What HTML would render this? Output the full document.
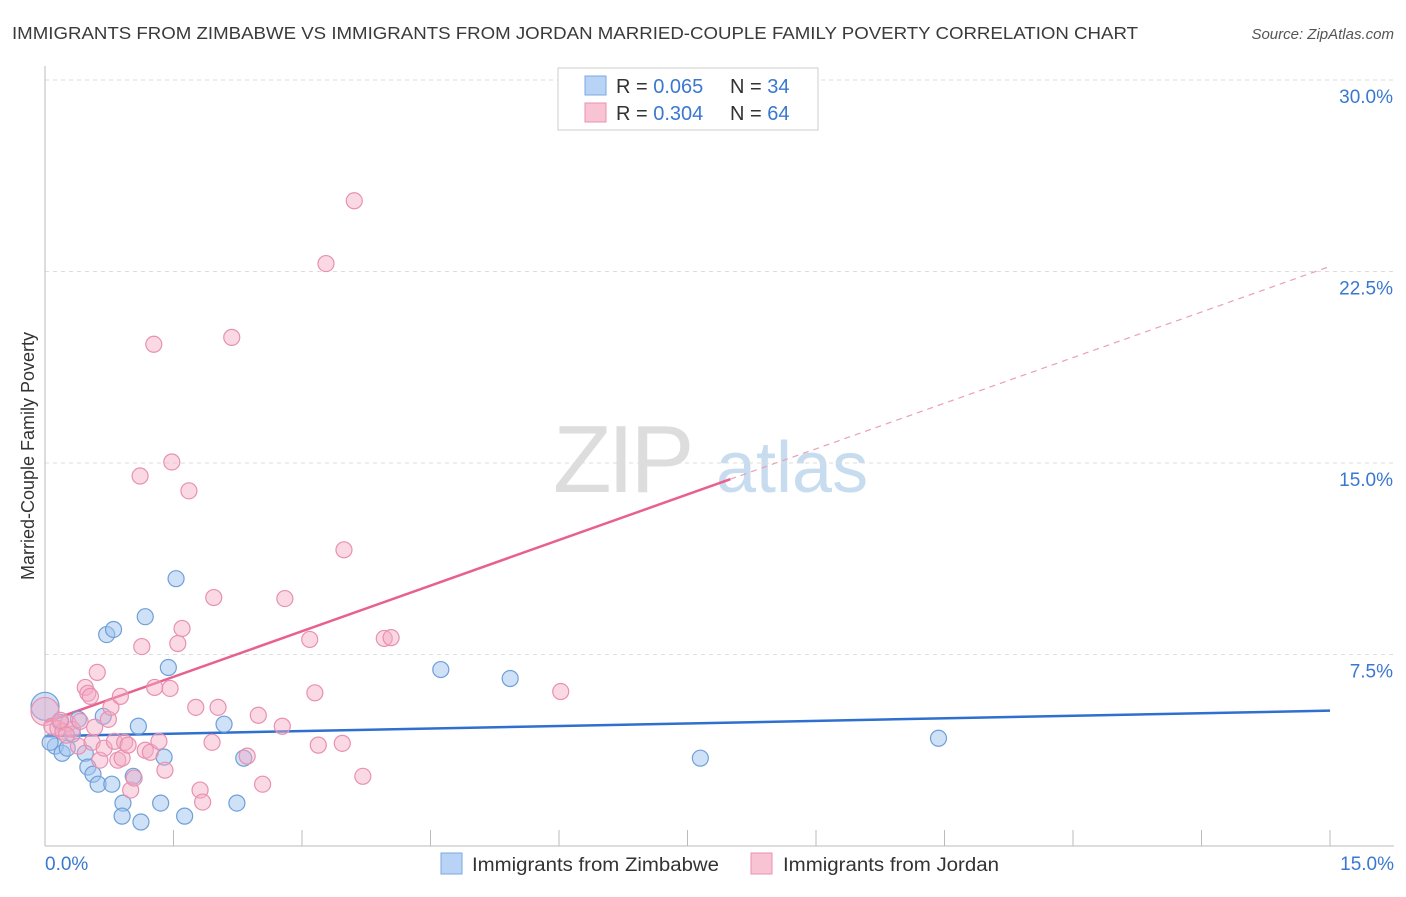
<!DOCTYPE html>
<html><head><meta charset="utf-8"><style>
body{margin:0;background:#fff;font-family:"Liberation Sans",sans-serif;}
svg text{font-family:"Liberation Sans",sans-serif;}
</style></head><body>
<svg id="chart" width="1406" height="892" xmlns="http://www.w3.org/2000/svg">
<text x="12" y="39" font-size="17.5" fill="#3a3a3a" textLength="1126" lengthAdjust="spacingAndGlyphs">IMMIGRANTS FROM ZIMBABWE VS IMMIGRANTS FROM JORDAN MARRIED-COUPLE FAMILY POVERTY CORRELATION CHART</text>
<text x="1394" y="39" font-size="15" fill="#555" font-style="italic" text-anchor="end">Source: ZipAtlas.com</text>
<g>
<text x="553" y="492" font-size="96" fill="#ddd" font-family="Liberation Serif" letter-spacing="-4">ZIP</text>
<text x="716" y="492" font-size="72" fill="#c8dcf0">atlas</text>
</g>
<g id="grid"></g>
<g id="axes"></g>
<g id="lines"></g>
<g id="pts"></g>
<text transform="translate(34,456) rotate(-90)" font-size="18" fill="#333" text-anchor="middle">Married-Couple Family Poverty</text>
<g>
<rect x="558" y="68" width="260" height="62" fill="#fff" stroke="#ccc"/>
<rect x="585" y="76" width="21" height="19" fill="#b8d3f5" stroke="#7aaae0"/>
<text x="616" y="93" font-size="20" fill="#333">R = <tspan fill="#3a78d0">0.065</tspan></text>
<text x="730" y="93" font-size="20" fill="#333">N = <tspan fill="#3a78d0">34</tspan></text>
<rect x="585" y="103" width="21" height="19" fill="#f8c4d4" stroke="#e890b0"/>
<text x="616" y="120" font-size="20" fill="#333">R = <tspan fill="#3a78d0">0.304</tspan></text>
<text x="730" y="120" font-size="20" fill="#333">N = <tspan fill="#3a78d0">64</tspan></text>
</g>
<g>
<rect x="441" y="853" width="21" height="21" fill="#b8d3f5" stroke="#7aaae0"/>
<text x="472" y="871" font-size="19" fill="#333" textLength="247" lengthAdjust="spacingAndGlyphs">Immigrants from Zimbabwe</text>
<rect x="751" y="853" width="21" height="21" fill="#f8c4d4" stroke="#e890b0"/>
<text x="783" y="871" font-size="19" fill="#333" textLength="216" lengthAdjust="spacingAndGlyphs">Immigrants from Jordan</text>
</g>
</svg>
<script>
const yTicks=[7.5,15,22.5,30];
const yTickLabels=["7.5%","15.0%","22.5%","30.0%"];
const xTickCount=10;
const blueX=[0,0.12,0.2,0.26,0.32,0.39,0.47,0.5,0.56,0.62,0.68,0.72,0.78,0.8,0.91,0.9,1.03,1.09,1.12,1.17,1.35,1.39,1.44,1.53,1.63,2.09,2.24,2.32,4.62,5.43,7.65,10.43,0.18,0.06];
const blueY=[5.47,3.91,3.63,3.83,4.38,4.96,3.63,3.09,2.81,2.42,5.08,8.28,2.42,8.48,1.68,1.17,2.73,4.69,0.94,8.98,1.68,3.48,6.99,10.47,1.17,4.77,1.68,3.44,6.91,6.56,3.44,4.22,4.84,4.06];
const pinkX=[0,0.08,0.15,0.21,0.27,0.32,0.39,0.41,0.47,0.5,0.55,0.58,0.61,0.64,0.69,0.74,0.77,0.81,0.85,0.9,0.93,0.97,1.0,1.04,1.11,1.13,1.17,1.23,1.27,1.28,1.33,1.4,1.46,1.48,1.55,1.6,1.68,1.76,1.81,1.84,1.95,1.97,2.02,2.18,2.36,2.49,2.54,2.77,2.8,3.09,3.15,3.19,3.28,3.47,3.49,3.61,3.71,3.96,4.04,6.02,0.18,0.25,0.53,0.88];
const pinkY=[5.27,4.69,4.61,4.49,4.8,4.57,3.91,4.88,6.21,5.98,4.06,4.65,6.8,3.36,3.83,4.96,5.43,4.1,3.36,3.44,4.06,3.95,2.19,2.66,14.49,7.81,3.75,3.67,19.65,6.21,4.1,2.97,6.17,15.04,7.93,8.52,13.91,5.43,2.19,1.72,4.06,9.73,5.43,19.92,3.52,5.12,2.42,4.69,9.69,8.09,6.0,3.95,22.81,4.02,11.6,25.27,2.73,8.13,8.16,6.05,4.92,4.34,5.86,5.86];
const blueLine=[4.3,5.3];
const pinkLine=[4.84,22.7];
const pinkSolidEnd=8.0;
const NS="http://www.w3.org/2000/svg";
const X0=45,X1=1330,Y0=846,Y30=80;
const sx=v=>X0+(X1-X0)*v/15;
const sy=v=>Y0-(Y0-Y30)*v/30;
function mk(tag,attrs,parent){const e=document.createElementNS(NS,tag);for(const k in attrs)e.setAttribute(k,attrs[k]);parent.appendChild(e);return e;}
const grid=document.getElementById('grid'),axes=document.getElementById('axes');
yTicks.forEach((t,i)=>{
 const l=mk('line',{x1:X0,x2:1394,y1:sy(t),y2:sy(t),stroke:'#ddd','stroke-dasharray':'4,4'},grid);
 
 
 const tx=mk('text',{x:1393,y:sy(t)+23,'font-size':19,fill:'#3a78d0','text-anchor':'end'},axes);
 tx.textContent=yTickLabels[i];
 
 
});
const ax=mk('line',{x1:X0,x2:1394,y1:Y0,y2:Y0,stroke:'#bbb'},axes);


const ay=mk('line',{x1:X0,x2:X0,y1:66,y2:Y0,stroke:'#bbb'},axes);


for(let i=1;i<=xTickCount;i++){
 const v=15*i/xTickCount;
 const t=mk('line',{x1:sx(v),x2:sx(v),y1:Y0,y2:Y0-16,stroke:'#bbb'},axes);
 
 
}
const xl0=mk('text',{x:45,y:870,'font-size':19,fill:'#3a78d0'},axes);xl0.textContent='0.0%';


const xl1=mk('text',{x:1394,y:870,'font-size':19,fill:'#3a78d0','text-anchor':'end'},axes);xl1.textContent='15.0%';


const pts=document.getElementById('pts');
blueX.forEach((x,i)=>{
 const c=mk('circle',{cx:sx(x),cy:sy(blueY[i]),r:i===0?14:8,fill:'rgba(160,195,240,0.5)',stroke:'#6f9fd8','stroke-width':1.2},pts);
 
 
});
pinkX.forEach((x,i)=>{
 const c=mk('circle',{cx:sx(x),cy:sy(pinkY[i]),r:i===0?14:8,fill:'rgba(245,170,195,0.45)',stroke:'#e890b0','stroke-width':1.2},pts);
 
 
});
const lines=document.getElementById('lines');
const py=v=>pinkLine[0]+(pinkLine[1]-pinkLine[0])*v/15;
const bl=mk('line',{x1:sx(0),y1:sy(blueLine[0]),x2:sx(15),y2:sy(blueLine[1]),stroke:'#2f6fd0','stroke-width':2.5},lines);


const pl=mk('line',{x1:sx(0),y1:sy(py(0)),x2:sx(pinkSolidEnd),y2:sy(py(pinkSolidEnd)),stroke:'#e8608e','stroke-width':2.5},lines);


const pd=mk('line',{x1:sx(pinkSolidEnd),y1:sy(py(pinkSolidEnd)),x2:sx(15),y2:sy(py(15)),stroke:'#e8a0b8','stroke-width':1.2,'stroke-dasharray':'6,5'},lines);


</script>
</body></html>
